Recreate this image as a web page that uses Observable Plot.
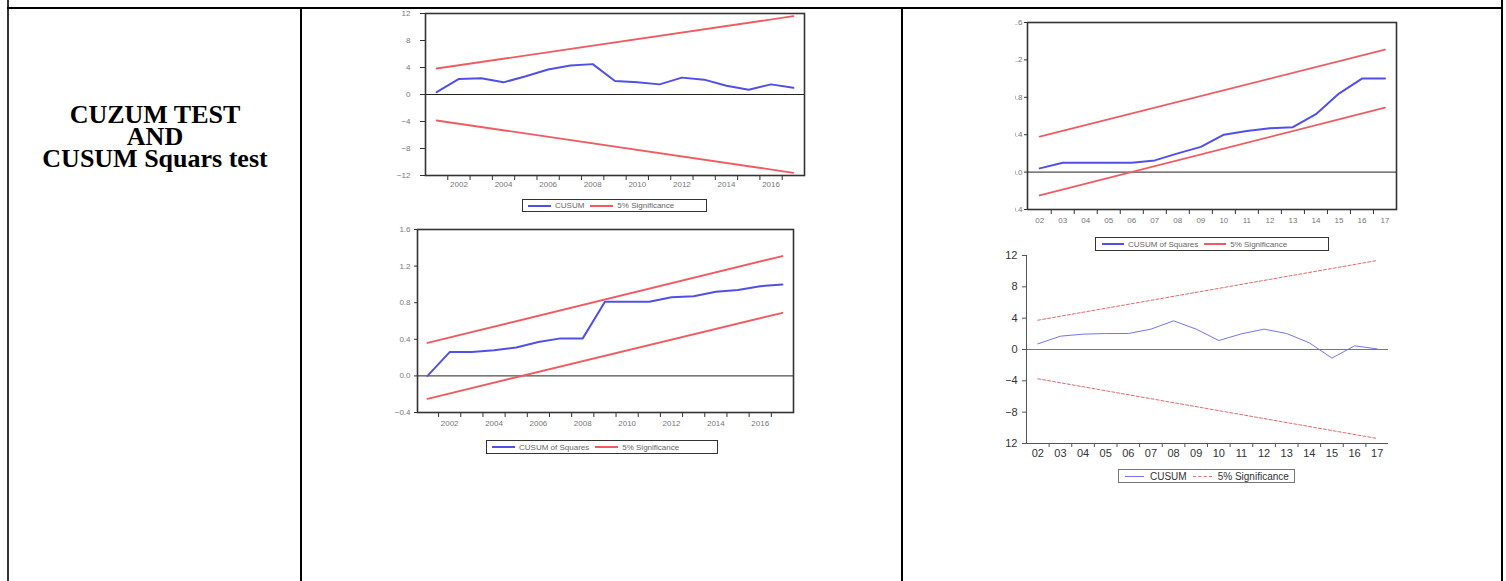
<!DOCTYPE html>
<html><head><meta charset="utf-8">
<script src="https://cdn.jsdelivr.net/npm/d3@7"></script>
<script src="https://cdn.jsdelivr.net/npm/@observablehq/plot@0.6"></script>
<style>
body{margin:0;background:#fff;}
#page{position:relative;width:1506px;height:581px;overflow:hidden;background:#fff;font-family:Arial,"Liberation Sans",sans-serif;}
.ln{position:absolute;background:#000;}
.tl{position:absolute;left:9px;width:292px;height:22px;text-align:center;font-family:"Liberation Serif","Times New Roman",serif;font-weight:bold;font-size:26px;line-height:22px;color:#000;white-space:nowrap;}
.box{position:absolute;}
.clip{position:absolute;overflow:hidden;}
.legend{position:absolute;box-sizing:border-box;display:flex;align-items:center;white-space:nowrap;background:#fff;}
.sw{display:inline-block;height:0;}
</style>
</head><body>
<div id="page">
  <div class="ln" style="left:7px;top:0;width:2px;height:581px;background:#333"></div>
  <div class="ln" style="left:7px;top:7px;width:1496px;height:2px"></div>
  <div class="ln" style="left:300px;top:7px;width:2px;height:574px"></div>
  <div class="ln" style="left:901px;top:7px;width:2px;height:574px"></div>
  <div class="ln" style="left:1501px;top:0;width:2px;height:581px"></div>
  <div class="tl" style="top:104px">CUZUM TEST</div>
  <div class="tl" style="top:126px">AND</div>
  <div class="tl" style="top:148px">CUSUM Squars test</div>
</div>
<script>
// ---------- Chart 1: CUSUM, annual 2001–2017 ----------
const years1 = [2001,2002,2003,2004,2005,2006,2007,2008,2009,2010,2011,2012,2013,2014,2015,2016,2017];
const cusum1 = [0.35,2.3,2.4,1.8,2.7,3.7,4.3,4.5,2.0,1.8,1.5,2.5,2.2,1.3,0.7,1.5,1.0];
const sigX1 = [2001,2017];
const sigUpper1 = [3.85,11.6];
const sigLower1 = [-3.85,-11.6];
const yTicks1 = [-12,-8,-4,0,4,8,12];
const xLabels1 = [2002,2004,2006,2008,2010,2012,2014,2016];
const legend1 = ["CUSUM","5% Significance"];

// ---------- Chart 2: CUSUM of Squares, annual 2001–2017 ----------
const years2 = [2001,2002,2003,2004,2005,2006,2007,2008,2009,2010,2011,2012,2013,2014,2015,2016,2017];
const cusumSq2 = [0.0,0.26,0.26,0.28,0.31,0.37,0.41,0.41,0.81,0.81,0.81,0.86,0.87,0.92,0.94,0.98,1.0];
const sigX2 = [2001,2017];
const sigUpper2 = [0.36,1.31];
const sigLower2 = [-0.25,0.69];
const yTicks2 = [-0.4,0.0,0.4,0.8,1.2,1.6];
const xLabels2 = [2002,2004,2006,2008,2010,2012,2014,2016];
const legend2 = ["CUSUM of Squares","5% Significance"];

// ---------- Chart 3: CUSUM of Squares, periods 02–17 ----------
const periods3 = [2,3,4,5,6,7,8,9,10,11,12,13,14,15,16,17];
const cusumSq3 = [0.04,0.10,0.10,0.10,0.10,0.125,0.20,0.27,0.40,0.44,0.47,0.48,0.62,0.84,1.0,1.0];
const sigX3 = [2,17];
const sigUpper3 = [0.38,1.31];
const sigLower3 = [-0.25,0.69];
const yTicks3 = [-0.4,0.0,0.4,0.8,1.2,1.6];
const xLabels3 = [2,3,4,5,6,7,8,9,10,11,12,13,14,15,16,17];
const legend3 = ["CUSUM of Squares","5% Significance"];

// ---------- Chart 4: CUSUM, periods 02–17 ----------
const periods4 = [2,3,4,5,6,7,8,9,10,11,12,13,14,15,16,17];
const cusum4 = [0.72,1.7,1.96,2.04,2.04,2.6,3.66,2.6,1.15,2.0,2.6,2.04,0.85,-1.1,0.47,0.08];
const sigX4 = [2,17];
const sigUpper4 = [3.74,11.36];
const sigLower4 = [-3.74,-11.36];
const yTicks4 = [-12,-8,-4,0,4,8,12];
const xLabels4 = [2,3,4,5,6,7,8,9,10,11,12,13,14,15,16,17];
const legend4 = ["CUSUM","5% Significance"];

const page = document.getElementById("page");

function cusumChart(c) {
  const rows = c.x.map((x,i)=>({x, v:c.v[i]}));
  const up = c.sigX.map((x,i)=>({x, v:c.up[i]}));
  const lo = c.sigX.map((x,i)=>({x, v:c.lo[i]}));
  const halfTicks = c.x.slice(0,-1).map(x=>x+0.5);
  const marks = [
    Plot.ruleY([0], {stroke:c.zeroColor, strokeWidth:1}),
    Plot.line(up, {x:"x", y:"v", stroke:c.red, strokeWidth:c.redW, strokeDasharray:c.dash}),
    Plot.line(lo, {x:"x", y:"v", stroke:c.red, strokeWidth:c.redW, strokeDasharray:c.dash}),
    Plot.line(rows, {x:"x", y:"v", stroke:c.blue, strokeWidth:c.blueW}),
    Plot.axisX(halfTicks, {tickSize:c.tx, tickFormat:()=>"", stroke:c.axisColor, label:null}),
    Plot.axisX(c.xLabels, {tickSize:0, tickPadding:c.xPad, tickFormat:c.xFmt, fill:c.textColor, fontSize:c.fs, label:null}),
    Plot.axisY(c.yTicks, {tickSize:c.ty, tickPadding:c.yPad, tickFormat:c.yFmt, fill:c.textColor, stroke:c.axisColor, fontSize:c.fs, label:null})
  ];
  if (c.frame) marks.push(Plot.frame({stroke:c.frameColor, strokeWidth:c.frameW}));
  else marks.push(
    Plot.ruleX([c.xDomain[0]], {stroke:c.axisColor, strokeWidth:1}),
    Plot.ruleY([c.yDomain[0]], {stroke:c.axisColor, strokeWidth:1})
  );
  return Plot.plot({
    width:c.width, height:c.height,
    marginLeft:c.ml, marginRight:c.mr, marginTop:c.mt, marginBottom:c.mb,
    x:{domain:c.xDomain, label:null},
    y:{domain:c.yDomain, label:null},
    style:{background:"transparent", overflow:"visible", fontFamily:"Arial, 'Liberation Sans', sans-serif", maxWidth:"none"},
    marks
  });
}

function place(svg, left, top, clipLeft) {
  const d = document.createElement("div");
  d.className = "box";
  if (clipLeft != null) {
    const w = document.createElement("div");
    w.className = "clip";
    w.style.left = clipLeft+"px"; w.style.top = "0px";
    w.style.width = (1500-clipLeft)+"px"; w.style.height = "581px";
    d.style.left = (left-clipLeft)+"px"; d.style.top = top+"px";
    d.appendChild(svg); w.appendChild(d); page.appendChild(w);
  } else {
    d.style.left = left+"px"; d.style.top = top+"px";
    d.appendChild(svg); page.appendChild(d);
  }
}

function legend(labels, o) {
  const L = document.createElement("div");
  L.className = "legend";
  Object.assign(L.style, {left:o.left+"px", top:o.top+"px", width:o.w+"px", height:o.h+"px",
    border:o.border, fontSize:o.fs+"px", color:o.color, paddingLeft:o.pad+"px"});
  const colors = [o.blue, o.red];
  labels.forEach((lab,i)=>{
    const s = document.createElement("span");
    s.className = "sw";
    Object.assign(s.style, {width:o.sw+"px", borderTop:`${o.lw}px ${i===1?o.redStyle:"solid"} ${colors[i]}`,
      marginLeft:(i===0?0:o.gap)+"px", marginRight:o.tg+"px"});
    const t = document.createElement("span");
    t.textContent = lab;
    L.appendChild(s); L.appendChild(t);
  });
  page.appendChild(L);
}

const BLUE = "#5050e6", RED = "#ef5b60";
const fmt1 = d3.format(".1f");
const fmt2 = d3.format("02d");

// Chart 1
place(cusumChart({
  x:years1, v:cusum1, sigX:sigX1, up:sigUpper1, lo:sigLower1, yTicks:yTicks1, xLabels:xLabels1,
  xDomain:[2000.5,2017.5], yDomain:[-12,12], width:424, height:200, ml:35, mr:10, mt:8, mb:30,
  blue:BLUE, red:RED, blueW:2, redW:1.8, dash:null, zeroColor:"#222",
  axisColor:"#333", textColor:"#777", fs:8, tx:5, ty:5, xPad:6, yPad:10,
  xFmt:d3.format("d"), yFmt:d3.format("d"), frame:true, frameColor:"#333", frameW:1.6
}), 390, 5);
legend(legend1, {left:522, top:199, w:185, h:13, border:"1.5px solid #333", fs:8, color:"#666", pad:5,
  blue:BLUE, red:RED, lw:2, sw:23, tg:4, gap:6, redStyle:"solid"});

// Chart 2
place(cusumChart({
  x:years2, v:cusumSq2, sigX:sigX2, up:sigUpper2, lo:sigLower2, yTicks:yTicks2, xLabels:xLabels2,
  xDomain:[2000.55,2017.5], yDomain:[-0.4,1.6], width:421, height:221, ml:35, mr:10, mt:8, mb:30,
  blue:BLUE, red:RED, blueW:2, redW:1.8, dash:null, zeroColor:"#222",
  axisColor:"#333", textColor:"#777", fs:8, tx:5, ty:3, xPad:8, yPad:4,
  xFmt:d3.format("d"), yFmt:fmt1, frame:true, frameColor:"#333", frameW:1.6
}), 382, 221);
legend(legend2, {left:486, top:440, w:232, h:14, border:"1.5px solid #333", fs:8, color:"#666", pad:5,
  blue:BLUE, red:RED, lw:2, sw:23, tg:4, gap:6, redStyle:"solid"});

// Chart 3 (the picture is cropped on its left side in the reference)
place(cusumChart({
  x:periods3, v:cusumSq3, sigX:sigX3, up:sigUpper3, lo:sigLower3, yTicks:yTicks3, xLabels:xLabels3,
  xDomain:[1.47,17.5], yDomain:[-0.4,1.6], width:414, height:225, ml:35, mr:10, mt:8, mb:30,
  blue:BLUE, red:RED, blueW:2, redW:1.8, dash:null, zeroColor:"#222",
  axisColor:"#333", textColor:"#777", fs:8, tx:5, ty:3, xPad:8, yPad:2,
  xFmt:fmt2, yFmt:fmt1, frame:true, frameColor:"#333", frameW:1.6
}), 992, 14, 1014.5);
legend(legend3, {left:1095, top:237, w:234, h:14, border:"1.5px solid #333", fs:8, color:"#666", pad:6,
  blue:BLUE, red:RED, lw:2, sw:22, tg:4, gap:6, redStyle:"solid"});

// Chart 4
place(cusumChart({
  x:periods4, v:cusum4, sigX:sigX4, up:sigUpper4, lo:sigLower4, yTicks:yTicks4, xLabels:xLabels4,
  xDomain:[1.5,17.5], yDomain:[-12,12], width:407, height:226, ml:35, mr:10, mt:8, mb:30,
  blue:"#7474f2", red:"#e56a6a", blueW:1, redW:1, dash:"3,2", zeroColor:"#777",
  axisColor:"#555", textColor:"#333", fs:11, tx:4, ty:4, xPad:6, yPad:5,
  xFmt:fmt2, yFmt:d3.format("d"), frame:false
}), 991, 247, 1006);
legend(legend4, {left:1118, top:469, w:177, h:14, border:"1px solid #777", fs:10, color:"#333", pad:6,
  blue:"#7474f2", red:"#e56a6a", lw:1, sw:19, tg:6, gap:6, redStyle:"dashed"});
</script>
</body></html>
